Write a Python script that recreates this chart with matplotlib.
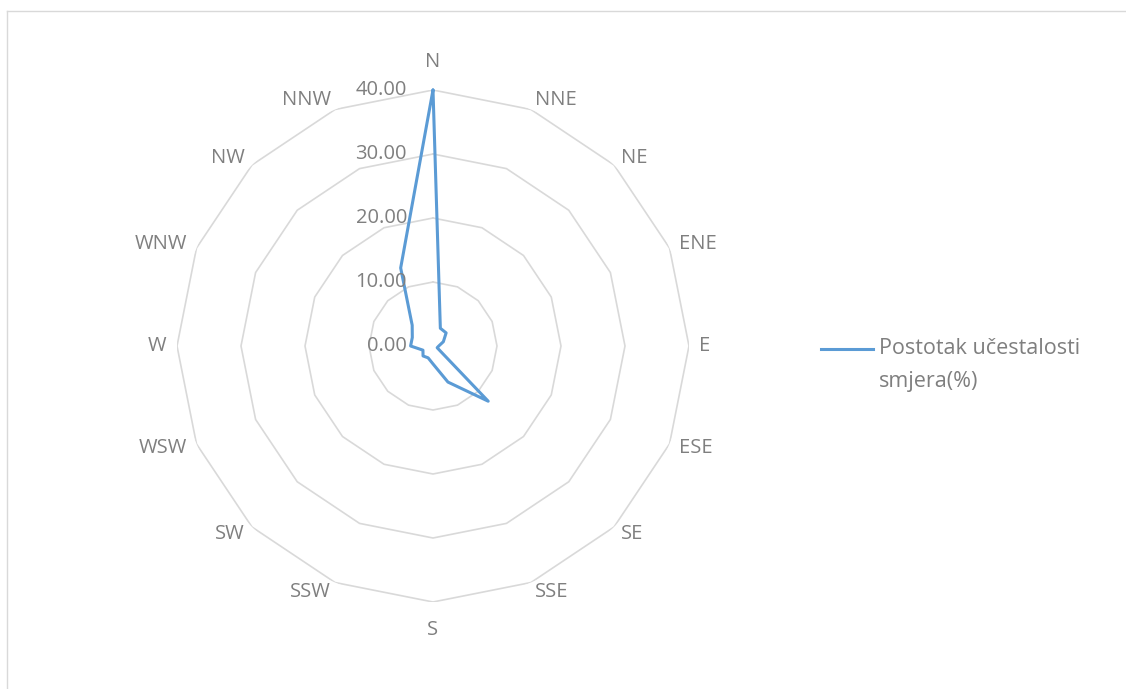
import numpy as np
import matplotlib
matplotlib.use("Agg")
import matplotlib.pyplot as plt
from matplotlib.lines import Line2D
from matplotlib.transforms import ScaledTranslation

directions = ["N", "NNE", "NE", "ENE", "E", "ESE", "SE", "SSE",
              "S", "SSW", "SW", "WSW", "W", "WNW", "NW", "NNW"]
values = [40.0, 3.0, 2.9, 1.75, 0.9, 0.7, 12.2, 6.1,
          2.8, 2.0, 2.2, 1.7, 3.5, 3.5, 4.6, 13.2]
ring_values = [0, 10, 20, 30, 40]
series_lines = ["Postotak učestalosti", "smjera(%)"]

plt.rcParams['font.family'] = ['Open Sans', 'DejaVu Sans']
TXT = '#7F7F7F'
GRID = '#D9D9D9'
BLUE = '#5B9BD5'
FS = 14.5

fig = plt.figure(figsize=(11.26, 6.89), dpi=100)
W, H = 1126, 689
cx, cy, R = 433, 346, 256
ax = fig.add_axes([(cx - R) / W, (H - cy - R) / H, 2 * R / W, 2 * R / H], projection='polar')
ax.set_theta_zero_location('N')
ax.set_theta_direction(-1)
ax.set_ylim(0, 40)
ax.grid(False)
ax.spines['polar'].set_visible(False)
ax.set_xticks([])
ax.set_yticks([])
ax.patch.set_alpha(0)

n = len(directions)
theta = np.arange(n) * 2 * np.pi / n
theta_closed = np.append(theta, theta[0])

for r in ring_values[1:]:
    ax.plot(theta_closed, [r] * (n + 1), color=GRID, lw=1.2, zorder=1)

vals_closed = values + [values[0]]
ax.plot(theta_closed, vals_closed, color=BLUE, lw=2.2, zorder=3,
        solid_joinstyle='round', solid_capstyle='round', clip_on=False)

for i, (t, lab) in enumerate(zip(theta, directions)):
    if i == 0 or i == n // 2:
        ax.text(t, 44.3, lab, ha='center', va='center', fontsize=FS, color=TXT)
    elif i < n // 2:
        ax.text(t, 41.6, lab, ha='left', va='center', fontsize=FS, color=TXT)
    else:
        ax.text(t, 41.6, lab, ha='right', va='center', fontsize=FS, color=TXT)

off = ax.transData + ScaledTranslation(-26 / 100, 0, fig.dpi_scale_trans)
for r in ring_values:
    ax.text(0, r, f"{r:.2f}", transform=off, ha='right', va='center',
            fontsize=FS, color=TXT)

# legend
fig.add_artist(Line2D([821 / W, 873 / W], [1 - 349 / H, 1 - 349 / H], color=BLUE, lw=2.2))
fig.text(879 / W, 1 - 349 / H, series_lines[0], ha='left', va='center', fontsize=15.5, color=TXT)
fig.text(879 / W, 1 - 381 / H, series_lines[1], ha='left', va='center', fontsize=15.5, color=TXT)

# chart border
fig.add_artist(Line2D([7 / W, 1], [1 - 11 / H, 1 - 11 / H], color=GRID, lw=1))
fig.add_artist(Line2D([7 / W, 7 / W], [0, 1 - 11 / H], color=GRID, lw=1))

fig.savefig("out.png", dpi=100)
